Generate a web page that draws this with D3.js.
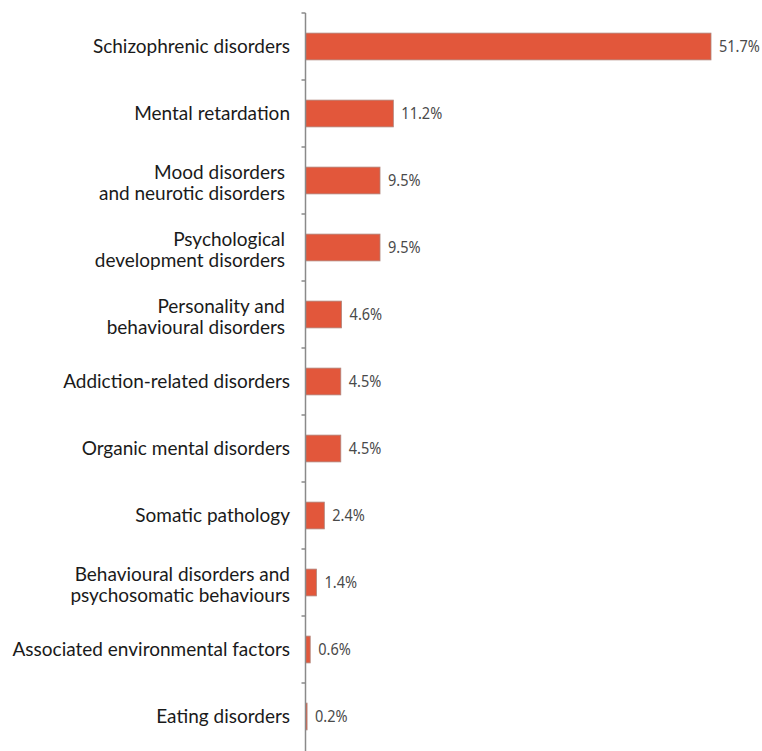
<!DOCTYPE html>
<html>
<head>
<meta charset="utf-8">
<script src="https://cdn.jsdelivr.net/npm/d3@7/dist/d3.min.js"></script>
<style>
  html, body { margin: 0; padding: 0; background: #fff; }
  svg { display: block; }
</style>
</head>
<body>
<svg id="chart" width="762" height="751"></svg>
<script>
const categories = [
  ["Schizophrenic disorders"],
  ["Mental retardation"],
  ["Mood disorders", "and neurotic disorders"],
  ["Psychological", "development disorders"],
  ["Personality and", "behavioural disorders"],
  ["Addiction-related disorders"],
  ["Organic mental disorders"],
  ["Somatic pathology"],
  ["Behavioural disorders and", "psychosomatic behaviours"],
  ["Associated environmental factors"],
  ["Eating disorders"]
];
const values = [51.7, 11.2, 9.5, 9.5, 4.6, 4.5, 4.5, 2.4, 1.4, 0.6, 0.2];
const valueLabels = ["51.7%", "11.2%", "9.5%", "9.5%", "4.6%", "4.5%", "4.5%", "2.4%", "1.4%", "0.6%", "0.2%"];

const svg = d3.select("#chart");
const axisX = 305.5;
const keys = categories.map((c, i) => i);

const y = d3.scaleBand().domain(keys).range([13, 750]).paddingInner(0.6).paddingOuter(0.3);
const x = d3.scaleLinear().domain([0, 51.7]).range([axisX, 711]);
const step = y.step();
const gap = (step - y.bandwidth()) / 2;

// bars
svg.append("g").selectAll("rect").data(values).join("rect")
  .attr("x", x(0))
  .attr("y", (d, i) => y(i))
  .attr("width", d => x(d) - x(0))
  .attr("height", y.bandwidth())
  .attr("fill", "#e2573b")
  .attr("stroke", "#b0857c")
  .attr("stroke-width", 0.8);

// axis line + ticks at band boundaries
const g = svg.append("g");
g.append("line").attr("x1", axisX).attr("x2", axisX).attr("y1", 13).attr("y2", 751)
  .attr("stroke", "#8a8a8a").attr("stroke-width", 1.5);
g.selectAll("line.tick").data(keys).join("line").attr("class", "tick")
  .attr("x1", axisX - 4).attr("x2", axisX)
  .attr("y1", (d, i) => y(i) - gap)
  .attr("y2", (d, i) => y(i) - gap)
  .attr("stroke", "#8a8a8a").attr("stroke-width", 1.5);

// category labels
const lab = svg.append("g")
  .attr("font-family", "Lato, 'Noto Sans', sans-serif")
  .attr("font-size", 19)
  .attr("fill", "#1a1a1a")
  .attr("text-anchor", "end");
categories.forEach((lines, i) => {
  const cy = y(i) + y.bandwidth() / 2;
  const lh = 21;
  const multi = lines.length > 1;
  const ax = multi && lines[0].length < 20 ? 285 : 290;
  const t = lab.append("text");
  lines.forEach((ln, j) => {
    t.append("tspan").attr("x", ax)
      .attr("y", cy + (j - (lines.length - 1) / 2) * lh + (multi ? 2.5 : 0))
      .attr("dy", "0.36em")
      .text(ln);
  });
});

// value labels (condensed look)
svg.append("g")
  .attr("font-family", "'Noto Sans', sans-serif")
  .attr("font-size", 16.5)
  .attr("fill", "#4a4a4a")
  .selectAll("text").data(values).join("text")
  .attr("transform", (d, i) => `translate(${x(d) + 8},${y(i) + y.bandwidth() / 2}) scale(0.88,1)`)
  .attr("dy", "0.36em")
  .text((d, i) => valueLabels[i]);
</script>
</body>
</html>
